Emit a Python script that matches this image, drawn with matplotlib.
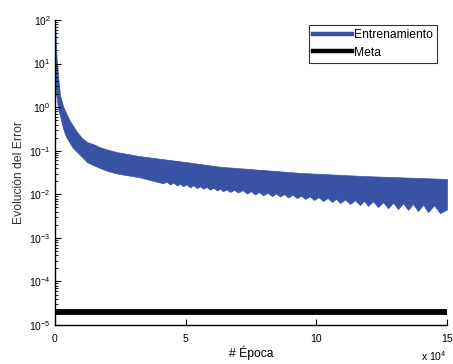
import matplotlib
matplotlib.use("Agg")
import matplotlib.pyplot as plt
from matplotlib.lines import Line2D
import numpy as np

plt.rcParams['font.family'] = ['Liberation Sans', 'DejaVu Sans']
plt.rcParams['mathtext.default'] = 'regular'

# ---- data ----
upper_epochs = [0, 400, 765, 1913, 3062, 4592, 5740, 8420, 10330, 12246,
                14540, 17220, 20280, 23727, 32530, 50000, 63000, 93762, 120000, 150000]
upper_values = [100, 23, 9.3, 1.9, 1.06, 0.66, 0.48, 0.27, 0.196, 0.158,
                0.143, 0.12, 0.105, 0.093, 0.075, 0.055, 0.043, 0.031, 0.026, 0.0225]

lower_epochs = [0, 380, 1148, 1913, 3062, 4210, 6889, 9570, 12246, 14540,
                17220, 20280, 23727, 32530, 36357, 38800,
                41330, 42670, 44010, 45350, 46690, 47840, 48990, 50330, 51660, 53000,
                54340, 55490, 56640, 57980, 59320, 60660, 62000, 63150, 64290, 65630,
                66970, 68500, 70030, 71760, 73480, 75010, 76540, 78070, 79600, 81330,
                83050, 84580, 86110, 87640, 89170, 90890, 92610, 94150, 95680, 97400,
                99120, 100840, 102560, 104290, 106010, 107540, 109070, 110990, 112900, 114810,
                116720, 118250, 119780, 121700, 123610, 125530, 127440, 129350, 131260, 133180,
                135090, 137010, 138920, 140840, 142750, 145050, 147340, 150000]
lower_values = [3.8, 2.2, 0.95, 0.63, 0.33, 0.21, 0.115, 0.080, 0.055, 0.047,
                0.040, 0.034, 0.030, 0.0245, 0.0213, 0.0196,
                0.0179, 0.0196, 0.0168, 0.0185, 0.0159, 0.0175, 0.0153, 0.0168, 0.0145, 0.0160,
                0.0139, 0.0153, 0.0134, 0.0147, 0.0128, 0.0141, 0.0122, 0.0135, 0.0118, 0.0130,
                0.0113, 0.0126, 0.0110, 0.0124, 0.0104, 0.0118, 0.0099, 0.0113, 0.0095, 0.0108,
                0.0091, 0.0104, 0.0089, 0.0101, 0.0085, 0.0097, 0.0082, 0.0093, 0.0078, 0.0090,
                0.0074, 0.0086, 0.0070, 0.0082, 0.0067, 0.0079, 0.0063, 0.0076, 0.0060, 0.0073,
                0.0057, 0.0071, 0.0054, 0.0069, 0.0051, 0.0066, 0.0048, 0.0064, 0.0046, 0.0062,
                0.0044, 0.0060, 0.0041, 0.0058, 0.0039, 0.0056, 0.0037, 0.0045]

goal_epochs = [0, 150000]
goal_values = [2.0e-5, 2.0e-5]

x_ticks = [0, 50000, 100000, 150000]
x_tick_labels = ["0", "5", "10", "15"]
y_ticks = [1e-5, 1e-4, 1e-3, 1e-2, 1e-1, 1e0, 1e1, 1e2]
y_tick_labels = ["$10^{-5}$", "$10^{-4}$", "$10^{-3}$", "$10^{-2}$",
                 "$10^{-1}$", "$10^{0}$", "$10^{1}$", "$10^{2}$"]
legend_labels = ["Entrenamiento", "Meta"]

blue = '#3953a4'

fig = plt.figure(figsize=(4.53, 3.64), dpi=100)
ax = fig.add_axes([0.1214, 0.1071, 0.8654, 0.8379])

# training band (upper and lower envelopes of the oscillating error)
xs = sorted(set(upper_epochs) | set(lower_epochs))
up = np.exp(np.interp(xs, upper_epochs, np.log(upper_values)))
lo = np.exp(np.interp(xs, lower_epochs, np.log(lower_values)))
ax.fill_between(xs, lo, up, color=blue, linewidth=0.5, edgecolor=blue)

ax.plot(goal_epochs, goal_values, color='black', linewidth=4.2, solid_capstyle='butt')

ax.set_yscale('log')
ax.set_xlim(0, 150000)
ax.set_ylim(1e-5, 1e2)
ax.set_xticks(x_ticks)
ax.set_xticklabels(x_tick_labels)
ax.set_yticks(y_ticks)
ax.set_yticklabels(y_tick_labels)

for s in ['top', 'right']:
    ax.spines[s].set_visible(False)
for s in ['left', 'bottom']:
    ax.spines[s].set_linewidth(1.0)

ax.tick_params(axis='both', which='major', direction='in', length=4, width=0.8,
               labelsize=7.5, colors='black', pad=3)
ax.tick_params(axis='x', which='major', pad=6.5)
ax.tick_params(axis='y', which='minor', direction='in', length=2, width=0.6)
ax.tick_params(axis='x', which='minor', bottom=False)

ax.set_xlabel("# Época", fontsize=8.7, labelpad=1)
ax.set_ylabel("Evolución del Error", fontsize=8.7, color='#333333', labelpad=3)

ax.text(1.0, -0.118, "x 10$^{4}$", transform=ax.transAxes, fontsize=7.5,
        ha='right', va='baseline')

handles = [Line2D([0], [0], color=blue, linewidth=3.2),
           Line2D([0], [0], color='black', linewidth=3.2)]
leg = fig.legend(handles, legend_labels, loc='upper right',
                 bbox_to_anchor=(0.9647, 0.9313), fontsize=8.7,
                 frameon=True, fancybox=False, edgecolor='black',
                 handlelength=3.2, handletextpad=0.15, borderpad=0.35,
                 labelspacing=0.45, borderaxespad=0)
leg.get_frame().set_linewidth(0.8)

fig.savefig("out.png", dpi=100)
